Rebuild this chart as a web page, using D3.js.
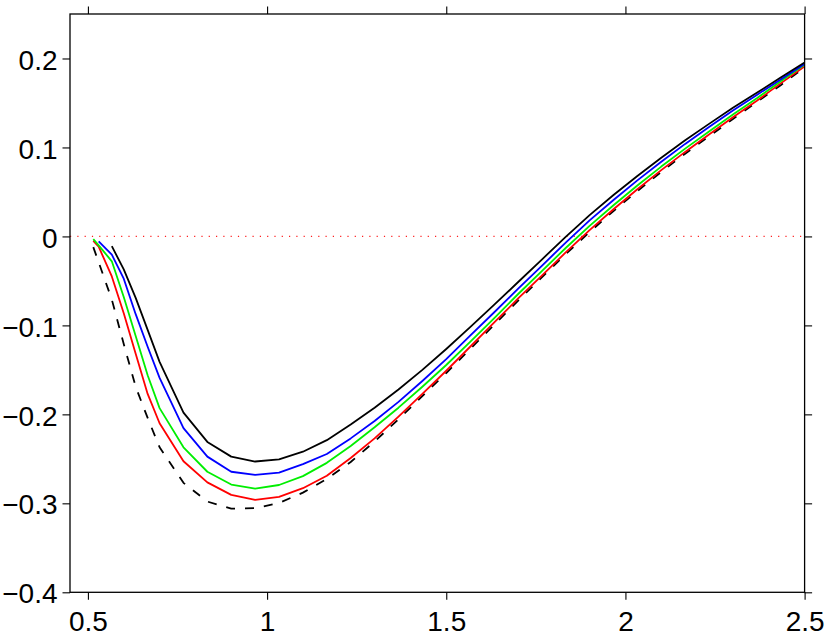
<!DOCTYPE html>
<html>
<head>
<meta charset="utf-8">
<script src="https://cdn.jsdelivr.net/npm/d3@7/dist/d3.min.js"></script>
<style>
  html, body { margin: 0; padding: 0; background: #fff; }
  svg { display: block; }
  .tick text { font-family: "Liberation Sans", Arial, Helvetica, sans-serif; font-size: 28px; fill: #000; }
</style>
</head>
<body>
<div id="chart"></div>
<script>
var width = 830;
var height = 633;
var margin = {top: 14, right: 25.4, bottom: 40.7, left: 70};

// x grid shared by all curves
var xs = [0.515, 0.53, 0.5667, 0.6, 0.6333, 0.6667, 0.7, 0.7667, 0.8333,
  0.9, 0.9667, 1.0333, 1.1, 1.1667, 1.2333, 1.3, 1.3667, 1.4333, 1.5,
  1.5667, 1.6333, 1.7, 1.7667, 1.8333, 1.9, 1.9667, 2.0333, 2.1, 2.1667,
  2.2333, 2.3, 2.3667, 2.4333, 2.5];

var dashedBlack = [-0.012, -0.029, -0.071, -0.121, -0.169, -0.204, -0.237, -0.277, -0.298,
  -0.306, -0.3054, -0.2996, -0.288, -0.2725, -0.2535, -0.2305, -0.2055, -0.1795, -0.1535,
  -0.1265, -0.0995, -0.0725, -0.046, -0.020, 0.005, 0.0285, 0.051, 0.0725, 0.093,
  0.1125, 0.132, 0.151, 0.170, 0.190];

var redLine = [-0.005, -0.0115, -0.045, -0.0864, -0.1318, -0.177, -0.210, -0.2527, -0.2765,
  -0.2905, -0.296, -0.2927, -0.283, -0.269, -0.249, -0.227, -0.2025, -0.177, -0.151,
  -0.124, -0.097, -0.070, -0.044, -0.018, 0.007, 0.0305, 0.053, 0.0745, 0.095,
  0.1145, 0.134, 0.1525, 0.172, 0.191];

var greenLine = [-0.003, -0.010, -0.028, -0.068, -0.112, -0.156, -0.193, -0.237, -0.2645,
  -0.2789, -0.2835, -0.2794, -0.2694, -0.2545, -0.2355, -0.2145, -0.1925, -0.169, -0.1445,
  -0.1185, -0.092, -0.065, -0.039, -0.013, 0.0118, 0.035, 0.0572, 0.0785, 0.0987,
  0.1179, 0.137, 0.1552, 0.1744, 0.193];

var blueLine = [null, -0.0055, -0.0205, -0.0475, -0.0874, -0.124, -0.159, -0.2155, -0.2475,
  -0.2645, -0.268, -0.2655, -0.256, -0.2445, -0.227, -0.2075, -0.186, -0.1625, -0.138,
  -0.1115, -0.0855, -0.059, -0.033, -0.007, 0.018, 0.041, 0.063, 0.084, 0.104,
  0.123, 0.1415, 0.159, 0.1765, 0.194];

var blackLine = [null, null, -0.011, -0.037, -0.069, -0.105, -0.141, -0.198, -0.231,
  -0.2475, -0.253, -0.2505, -0.242, -0.229, -0.2115, -0.1925, -0.172, -0.150, -0.1265,
  -0.102, -0.077, -0.0515, -0.026, -0.0005, 0.024, 0.0465, 0.068, 0.0885, 0.108,
  0.1265, 0.1445, 0.1615, 0.1785, 0.1955];

var xTicks = [0.5, 1, 1.5, 2, 2.5];
var yTicks = [-0.4, -0.3, -0.2, -0.1, 0, 0.1, 0.2];

var series = [
  {values: dashedBlack, color: "#000", dash: "9,10"},
  {values: redLine, color: "#ff0000", dash: null},
  {values: greenLine, color: "#00ee00", dash: null},
  {values: blueLine, color: "#0000ff", dash: null},
  {values: blackLine, color: "#000", dash: null}
];

var w = width - margin.left - margin.right;
var h = height - margin.top - margin.bottom;

var x = d3.scaleLinear().domain([0.45, 2.5]).range([0, w]);
var y = d3.scaleLinear().domain([-0.4, 0.25]).range([h, 0]);

var svg = d3.select("#chart")
    .append("svg")
    .attr("width", width)
    .attr("height", height)
  .append("g")
    .attr("transform", "translate(" + margin.left + "," + margin.top + ")");

svg.append("clipPath").attr("id", "clip")
  .append("rect").attr("width", w).attr("height", h);

var fmt = d3.format("~g");

// axes, ticks pointing outward on all four sides
var left = svg.append("g")
    .call(d3.axisLeft(y).tickValues(yTicks).tickSize(7.5).tickPadding(5).tickFormat(fmt));
left.selectAll("text").attr("dy", "0.38em");

svg.append("g")
    .attr("transform", "translate(0," + h + ")")
    .call(d3.axisBottom(x).tickValues(xTicks).tickSize(7.5).tickPadding(11.5).tickFormat(fmt));

svg.append("g")
    .call(d3.axisTop(x).tickValues(xTicks).tickSize(7.5).tickFormat(""));

svg.append("g")
    .attr("transform", "translate(" + w + ",0)")
    .call(d3.axisRight(y).tickValues(yTicks).tickSize(7.5).tickFormat(""));

svg.selectAll(".domain").remove();
svg.selectAll(".tick line").attr("stroke", "#000").attr("stroke-width", 1.1);

// zero reference line
svg.append("line")
    .attr("x1", 0).attr("x2", w)
    .attr("y1", y(0)).attr("y2", y(0))
    .attr("stroke", "#ff2020")
    .attr("stroke-width", 1.2)
    .attr("stroke-dasharray", "1.2,6.1");

var line = d3.line()
    .defined(function(d) { return d[1] !== null; })
    .x(function(d) { return x(d[0]); })
    .y(function(d) { return y(d[1]); });

var plot = svg.append("g").attr("clip-path", "url(#clip)");

series.forEach(function(s) {
  var pts = xs.map(function(xv, i) { return [xv, s.values[i]]; });
  plot.append("path")
      .datum(pts)
      .attr("fill", "none")
      .attr("stroke", s.color)
      .attr("stroke-width", 1.8)
      .attr("stroke-linejoin", "round")
      .attr("stroke-dasharray", s.dash)
      .attr("d", line);
});

// frame
svg.append("rect")
    .attr("width", w)
    .attr("height", h)
    .attr("fill", "none")
    .attr("stroke", "#000")
    .attr("stroke-width", 1.3);
</script>
</body>
</html>
